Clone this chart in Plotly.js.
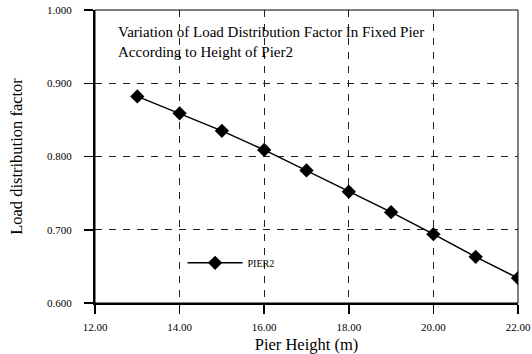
<!DOCTYPE html>
<html>
<head>
<meta charset="utf-8">
<script src="https://cdn.plot.ly/plotly-3.0.1.min.js"></script>
<style>
html,body{margin:0;padding:0;background:#fff;}
#chart{width:532px;height:354px;}
</style>
</head>
<body>
<div id="chart"></div>
<script>
const pierHeight = [13, 14, 15, 16, 17, 18, 19, 20, 21, 22];
const pier2Factor = [0.882, 0.859, 0.835, 0.809, 0.781, 0.752, 0.724, 0.694, 0.663, 0.634];
const seriesName = "PIER2";
const chartTitle = "Variation of Load Distribution Factor In Fixed Pier<br>According to Height of Pier2";
const xTitle = "Pier Height (m)";
const yTitle = "Load distribution factor";

const serif = "Liberation Serif, Times New Roman, serif";

const trace = {
  x: pierHeight,
  y: pier2Factor,
  name: seriesName,
  type: "scatter",
  mode: "lines+markers",
  line: {color: "#000", width: 1.5},
  marker: {symbol: "diamond", size: 11, color: "#000"}
};

const gridStyle = {showgrid: true, gridcolor: "#222", gridwidth: 1, griddash: "7px,7px"};

const layout = {
  width: 532, height: 354,
  margin: {l: 95, r: 14, t: 10, b: 51},
  paper_bgcolor: "#fff", plot_bgcolor: "#fff",
  font: {family: serif, color: "#000"},
  showlegend: true,
  legend: {x: 0.207, y: 0.137, xanchor: "left", yanchor: "middle", bgcolor: "rgba(0,0,0,0)",
           itemwidth: 55,
           font: {family: serif, size: 10, color: "#000"}},
  xaxis: Object.assign({
    range: [12, 22], dtick: 2, tick0: 12, tickformat: ".2f",
    showline: true, linecolor: "#000", linewidth: 2,
    ticks: "outside", ticklen: 9, tickwidth: 1.5, tickcolor: "#000",
    ticklabelstandoff: 4,
    tickfont: {family: serif, size: 11},
    zeroline: false,
    title: {text: xTitle, font: {family: serif, size: 16.5}, standoff: 10}
  }, gridStyle),
  yaxis: Object.assign({
    range: [0.6, 1.0], dtick: 0.1, tick0: 0.6, tickformat: ".3f",
    showline: true, linecolor: "#000", linewidth: 2,
    ticks: "outside", ticklen: 9, tickwidth: 1.5, tickcolor: "#000",
    ticklabelstandoff: 10,
    tickfont: {family: serif, size: 11},
    zeroline: false,
    title: {text: yTitle, font: {family: serif, size: 16.5}, standoff: 20}
  }, gridStyle),
  xaxis2: {overlaying: "x", matches: "x", anchor: "y", side: "bottom", range: [12, 22], dtick: 2, tick0: 12,
           ticks: "inside", ticklen: 5, tickwidth: 1.5, tickcolor: "#000",
           showticklabels: false, showgrid: false, zeroline: false, showline: false},
  yaxis2: {overlaying: "y", matches: "y", anchor: "x", side: "left", range: [0.6, 1.0], dtick: 0.1, tick0: 0.6,
           ticks: "inside", ticklen: 3, tickwidth: 1.5, tickcolor: "#000",
           showticklabels: false, showgrid: false, zeroline: false, showline: false},
  shapes: [{type: "rect", xref: "paper", yref: "paper", x0: 0, x1: 1, y0: 0, y1: 1,
            line: {color: "#000", width: 1}, layer: "above"}],
  annotations: [{
    text: chartTitle, xref: "paper", yref: "paper", x: 0.05, y: 0.96,
    xanchor: "left", yanchor: "top", align: "left", showarrow: false,
    font: {family: serif, size: 15, color: "#000"}
  }]
};

Plotly.newPlot("chart", [trace], layout, {displayModeBar: false, staticPlot: true});
</script>
</body>
</html>
